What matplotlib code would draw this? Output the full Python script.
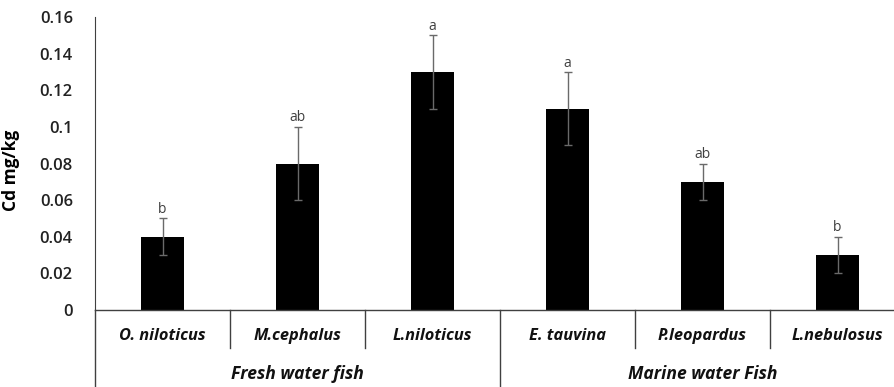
import numpy as np
import matplotlib
matplotlib.use("Agg")
import matplotlib.pyplot as plt

# Cd concentration per species, with SE and significance letters
species = ["O. niloticus", "M.cephalus", "L.niloticus",
           "E. tauvina", "P.leopardus", "L.nebulosus"]
cd_mean = [0.04, 0.08, 0.13, 0.11, 0.07, 0.03]
cd_err = [0.01, 0.02, 0.02, 0.02, 0.01, 0.01]
letters = ["b", "ab", "a", "a", "ab", "b"]
groups = ["Fresh water fish", "Marine water Fish"]
group_size = [3, 3]
yticks = [0, 0.02, 0.04, 0.06, 0.08, 0.1, 0.12, 0.14, 0.16]

plt.rcParams["font.family"] = ["Open Sans", "DejaVu Sans"]
W, H = 894, 387
fig = plt.figure(figsize=(W / 100, H / 100), dpi=100)

x0, x1, y0, y1 = 95, 894, 310, 17
ax = fig.add_axes([x0 / W, (H - y0) / H, (x1 - x0) / W, (y0 - y1) / H])

x = np.arange(len(species))
line_col = "#404040"
ax.bar(x, cd_mean, width=0.32, color="black", zorder=2)
ax.errorbar(x, cd_mean, yerr=cd_err, fmt="none", ecolor="#6a6a6a",
            elinewidth=1, capsize=3, capthick=1, zorder=3)
for xi, m, e, lab in zip(x, cd_mean, cd_err, letters):
    ax.annotate(lab, (xi, m + e), xytext=(0, 1), textcoords="offset points",
                ha="center", va="bottom", fontsize=10, color="#404040")

ax.set_xlim(-0.5, -0.5 + (x1 - x0) / 135)
ax.set_ylim(0, 0.16)
ax.set_yticks(yticks)
ax.set_yticklabels([f"{t:g}" for t in yticks], fontsize=12,
                   fontweight="semibold", color="#222222")
ax.tick_params(axis="y", length=0, pad=16)
ax.set_xticks([])
for s in ["top", "right", "bottom"]:
    ax.spines[s].set_visible(False)
ax.spines["left"].set_color(line_col)
ax.set_ylabel("Cd mg/kg", fontsize=12.5, fontweight="bold")
ax.yaxis.set_label_coords(-(x0 - 20) / (x1 - x0), (y0 - 170) / (y0 - y1))

# two-level category axis below the plot
tr = ax.get_xaxis_transform()
ax_h = y0 - y1
cat_bottom = -(348 - y0) / ax_h
grp_bottom = -(H - y0) / ax_h
ax.plot([-0.5, len(species) + 0.5], [0, 0], transform=tr, color=line_col,
        lw=1, clip_on=False)
for i, name in enumerate(species):
    ax.text(i, -(336 - y0) / ax_h, name, transform=tr, ha="center",
            va="center", fontsize=11.8, fontweight="bold", style="italic",
            color="#111111")
bounds = np.cumsum([0] + group_size)
for i in range(len(species) + 1):
    bottom = grp_bottom if i in bounds else cat_bottom
    ax.plot([i - 0.5, i - 0.5], [0, bottom], transform=tr, color=line_col,
            lw=1, clip_on=False)
for g, a, b in zip(groups, bounds[:-1], bounds[1:]):
    ax.text((a + b - 1) / 2, -(374 - y0) / ax_h, g, transform=tr,
            ha="center", va="center", fontsize=12.6, fontweight="bold",
            style="italic", color="#111111")

fig.savefig("out.png", dpi=100)
